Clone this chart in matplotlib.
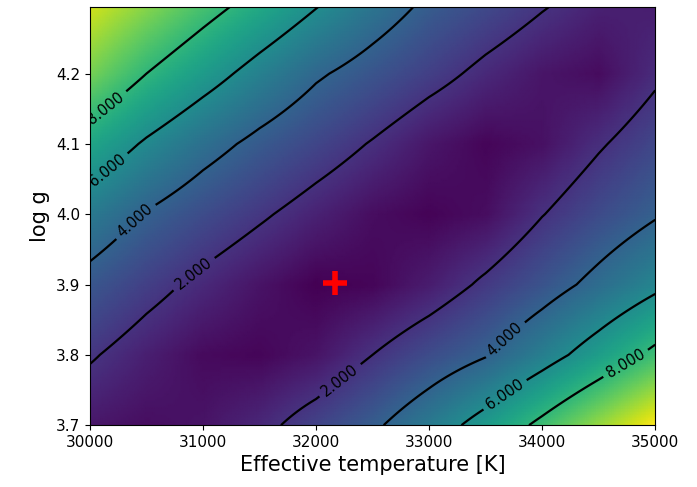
import numpy as np
import matplotlib
matplotlib.use("Agg")
import matplotlib.pyplot as plt

# grid of the fit
teff = [30000, 30500, 31000, 31500, 32000, 32500, 33000, 33500, 34000, 34500, 35000]
logg = [3.7, 3.8, 3.9, 4.0, 4.1, 4.2, 4.3]

# chi2 values, one row per logg
chi2 = [
    [1.00, 0.70, 0.90, 1.60, 2.65, 3.73, 5.10, 6.67, 8.40, 10.20, 12.00],
    [2.15, 1.30, 0.60, 0.45, 0.90, 2.00, 3.00, 3.90, 5.30, 6.80, 8.40],
    [3.46, 2.50, 1.65, 0.90, 0.30, 0.45, 1.20, 2.25, 3.30, 4.45, 5.63],
    [5.10, 3.90, 3.00, 2.20, 1.40, 0.70, 0.40, 0.70, 1.95, 2.95, 3.86],
    [7.20, 5.80, 4.60, 3.60, 2.75, 1.90, 1.00, 0.45, 0.80, 1.85, 2.80],
    [9.60, 8.00, 6.70, 5.40, 4.20, 3.35, 2.50, 1.65, 0.95, 0.65, 1.75],
    [11.30, 10.00, 8.70, 7.45, 6.15, 4.90, 3.75, 2.95, 2.15, 1.40, 1.20],
]
levels = [2, 4, 6, 8]

best_teff = 32170
best_logg = 3.902


def upsample(xs, ys, z, nx=251, ny=151):
    # bilinear resampling of the grid, just for a smoother picture
    xf = np.linspace(xs[0], xs[-1], nx)
    yf = np.linspace(ys[0], ys[-1], ny)
    tmp = np.array([np.interp(xf, xs, row) for row in z])
    zf = np.array([np.interp(yf, ys, col) for col in tmp.T]).T
    return xf, yf, zf


xf, yf, zf = upsample(teff, logg, np.array(chi2))

fig = plt.figure(figsize=(6.97, 4.87), dpi=100)
ax = fig.add_axes([0.129, 0.127, 0.811, 0.859])

ax.pcolormesh(xf, yf, zf, shading='gouraud', cmap='viridis')
cs = ax.contour(xf, yf, zf, levels=levels, colors='k', linewidths=1.6)
label_pos = [(30090, 4.162), (30090, 4.076), (30354, 3.998), (30930, 3.913),
             (32212, 3.764), (33717, 3.814), (33673, 3.743), (34735, 3.789)]
ax.clabel(cs, fmt='%.3f', fontsize=10.5, manual=label_pos)
ax.plot(best_teff, best_logg, '+', color='red', markersize=17, markeredgewidth=4)

ax.set_xlim(30000, 35000)
ax.set_ylim(3.7, 4.295)
ax.set_xticks([30000, 31000, 32000, 33000, 34000, 35000])
ax.set_yticks([3.7, 3.8, 3.9, 4.0, 4.1, 4.2])
ax.tick_params(labelsize=11)
ax.set_xlabel('Effective temperature [K]', fontsize=15)
ax.set_ylabel('log g', fontsize=15)

fig.savefig('out.png', dpi=100)
